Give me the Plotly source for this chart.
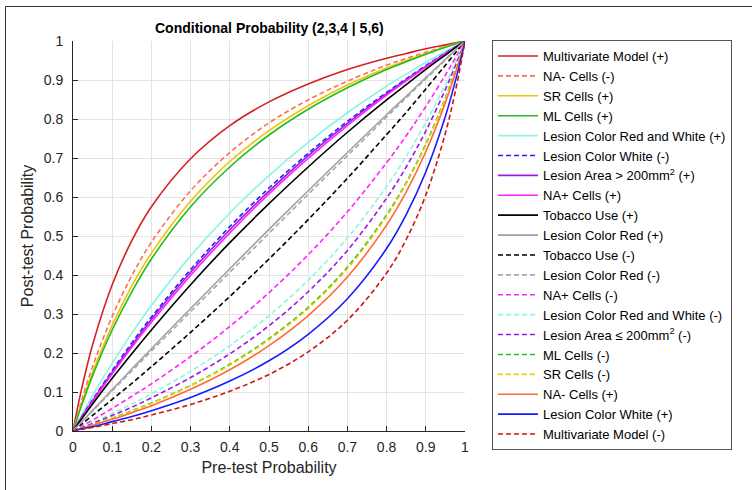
import plotly.graph_objects as go

# Pre-test probability grid (x values read at these points)
pre_test = [0, 0.02, 0.05, 0.1, 0.15, 0.2, 0.3, 0.4, 0.5, 0.6, 0.7, 0.8, 0.85, 0.9, 0.95, 0.98, 1]

# Post-test probability values, one list per series
multivariate_pos = [0, 0.099, 0.221, 0.375, 0.488, 0.575, 0.698, 0.783, 0.844, 0.890, 0.927, 0.956, 0.968, 0.980, 0.990, 0.996, 1]
na_minus_neg = [0, 0.071, 0.165, 0.294, 0.398, 0.484, 0.616, 0.714, 0.790, 0.849, 0.897, 0.938, 0.955, 0.971, 0.986, 0.995, 1]
sr_pos = [0, 0.064, 0.150, 0.271, 0.372, 0.456, 0.589, 0.691, 0.770, 0.834, 0.887, 0.931, 0.950, 0.968, 0.985, 0.994, 1]
ml_pos = [0, 0.060, 0.142, 0.259, 0.357, 0.441, 0.575, 0.677, 0.759, 0.825, 0.880, 0.927, 0.947, 0.966, 0.984, 0.994, 1]
red_white_pos = [0, 0.037, 0.091, 0.174, 0.251, 0.322, 0.449, 0.559, 0.655, 0.740, 0.816, 0.884, 0.915, 0.945, 0.973, 0.989, 1]
white_neg = [0, 0.033, 0.080, 0.155, 0.226, 0.292, 0.414, 0.524, 0.623, 0.712, 0.794, 0.868, 0.903, 0.937, 0.969, 0.988, 1]
area_gt_pos = [0, 0.032, 0.078, 0.151, 0.220, 0.286, 0.407, 0.516, 0.615, 0.706, 0.789, 0.865, 0.901, 0.935, 0.968, 0.987, 1]
na_plus_pos = [0, 0.031, 0.075, 0.147, 0.215, 0.279, 0.399, 0.508, 0.608, 0.699, 0.783, 0.861, 0.898, 0.933, 0.967, 0.987, 1]
tobacco_pos = [0, 0.028, 0.069, 0.135, 0.198, 0.259, 0.375, 0.483, 0.583, 0.677, 0.766, 0.849, 0.888, 0.927, 0.964, 0.986, 1]
red_pos = [0, 0.021, 0.053, 0.106, 0.159, 0.211, 0.314, 0.416, 0.517, 0.616, 0.714, 0.811, 0.858, 0.906, 0.953, 0.981, 1]
tobacco_neg = [0, 0.016, 0.040, 0.081, 0.122, 0.165, 0.253, 0.345, 0.441, 0.542, 0.648, 0.760, 0.817, 0.877, 0.938, 0.975, 1]
red_neg = [0, 0.021, 0.051, 0.103, 0.154, 0.205, 0.306, 0.407, 0.507, 0.607, 0.706, 0.805, 0.854, 0.903, 0.951, 0.981, 1]
na_plus_neg = [0, 0.011, 0.028, 0.058, 0.089, 0.121, 0.191, 0.268, 0.355, 0.452, 0.562, 0.688, 0.757, 0.832, 0.913, 0.964, 1]
red_white_neg = [0, 0.009, 0.022, 0.045, 0.069, 0.095, 0.153, 0.219, 0.296, 0.387, 0.495, 0.627, 0.704, 0.791, 0.889, 0.954, 1]
area_le_neg = [0, 0.008, 0.019, 0.040, 0.061, 0.085, 0.137, 0.198, 0.270, 0.357, 0.463, 0.597, 0.677, 0.769, 0.876, 0.948, 1]
ml_neg = [0, 0.006, 0.016, 0.033, 0.052, 0.072, 0.117, 0.171, 0.237, 0.317, 0.420, 0.554, 0.637, 0.736, 0.855, 0.938, 1]
sr_neg = [0, 0.006, 0.016, 0.033, 0.051, 0.071, 0.116, 0.169, 0.234, 0.314, 0.416, 0.550, 0.634, 0.733, 0.853, 0.937, 1]
na_minus_pos = [0, 0.006, 0.015, 0.030, 0.047, 0.065, 0.107, 0.157, 0.219, 0.296, 0.395, 0.528, 0.613, 0.716, 0.842, 0.932, 1]
white_pos = [0, 0.005, 0.011, 0.024, 0.037, 0.052, 0.086, 0.128, 0.180, 0.248, 0.339, 0.468, 0.555, 0.664, 0.807, 0.915, 1]
multivariate_neg = [0, 0.004, 0.009, 0.019, 0.029, 0.041, 0.068, 0.102, 0.145, 0.203, 0.284, 0.405, 0.491, 0.605, 0.764, 0.893, 1]

labels = [
    "Multivariate Model (+)", "NA- Cells (-)", "SR Cells (+)", "ML Cells (+)",
    "Lesion Color Red and White (+)", "Lesion Color White (-)",
    "Lesion Area > 200mm<sup>2</sup> (+)", "NA+ Cells (+)", "Tobacco Use (+)",
    "Lesion Color Red (+)", "Tobacco Use (-)", "Lesion Color Red (-)",
    "NA+ Cells (-)", "Lesion Color Red and White (-)",
    "Lesion Area ≤ 200mm<sup>2</sup> (-)", "ML Cells (-)", "SR Cells (-)",
    "NA- Cells (+)", "Lesion Color White (+)", "Multivariate Model (-)",
]
series = [
    multivariate_pos, na_minus_neg, sr_pos, ml_pos, red_white_pos, white_neg,
    area_gt_pos, na_plus_pos, tobacco_pos, red_pos, tobacco_neg, red_neg,
    na_plus_neg, red_white_neg, area_le_neg, ml_neg, sr_neg, na_minus_pos,
    white_pos, multivariate_neg,
]

colors = [
    "#d42222", "#ff7050", "#f2c200", "#22bb22", "#88f5e5", "#2222ff",
    "#9a1ae6", "#ff22ff", "#000000", "#a0a0a0", "#000000", "#a8a8a8",
    "#ff22ff", "#88f5e5", "#9a1ae6", "#22bb22", "#f2d000", "#ff6a3a",
    "#1a1aff", "#cc1616",
]
dashes = [
    "solid", "dash", "solid", "solid", "solid", "dash",
    "solid", "solid", "solid", "solid", "dash", "dash",
    "dash", "dash", "dash", "dash", "dash", "solid",
    "solid", "dash",
]

fig = go.Figure()
for name, ys, c, d in zip(labels, series, colors, dashes):
    fig.add_trace(go.Scatter(
        x=pre_test, y=ys, mode="lines", name=name,
        line=dict(color=c, width=1.6, dash=("5px,3px" if d == "dash" else "solid"),
                  shape="spline", smoothing=1.0),
    ))

font_family = "Liberation Sans, Arial, sans-serif"
tick_text = ["0", "0.1", "0.2", "0.3", "0.4", "0.5", "0.6", "0.7", "0.8", "0.9", "1"]
axis_common = dict(
    range=[0, 1], tickvals=[i / 10 for i in range(11)], ticktext=tick_text,
    ticks="inside", ticklen=5, tickcolor="#262626", showline=True,
    linecolor="#262626", linewidth=1, mirror=False, showgrid=True,
    gridcolor="#e3e3e3", gridwidth=1, zeroline=False, automargin=False,
    tickfont=dict(family=font_family, size=14, color="#262626"),
)

fig.update_layout(
    width=752, height=490,
    margin=dict(l=73, r=287, t=41, b=59),
    paper_bgcolor="white", plot_bgcolor="white",
    font=dict(family=font_family, color="#262626"),
    xaxis=dict(axis_common, ticklabelstandoff=3,
               title=dict(text="Pre-test Probability",
                          font=dict(family=font_family, size=16, color="#262626"), standoff=8)),
    yaxis=dict(axis_common, ticklabelstandoff=6,
               title=dict(text="Post-test Probability",
                          font=dict(family=font_family, size=16, color="#262626"), standoff=6)),
    legend=dict(x=(492 - 73) / 392, y=1.0025, xanchor="left", yanchor="top",
                bgcolor="white", bordercolor="#555555", borderwidth=1,
                font=dict(family=font_family, size=13, color="#000000"),
                itemwidth=40, tracegroupgap=0, maxheight=480, entrywidth=205),
    showlegend=True,
    annotations=[
        dict(text="<b>Conditional Probability (2,3,4 | 5,6)</b>", xref="paper", yref="paper",
             x=0.5, y=(431 - 28) / 390, xanchor="center", yanchor="middle", showarrow=False,
             font=dict(family=font_family, size=14, color="#000000")),
    ],
    shapes=[
        dict(type="rect", xref="paper", yref="paper", layer="above",
             x0=(5.5 - 73) / 392, x1=(770 - 73) / 392,
             y0=(431 - 6.5) / 390, y1=(431 - 500) / 390,
             line=dict(color="#333333", width=1), fillcolor="rgba(0,0,0,0)"),
    ],
)

fig.write_html("out.html", config={"displayModeBar": False},
               post_script="document.body.style.margin='0px';")
